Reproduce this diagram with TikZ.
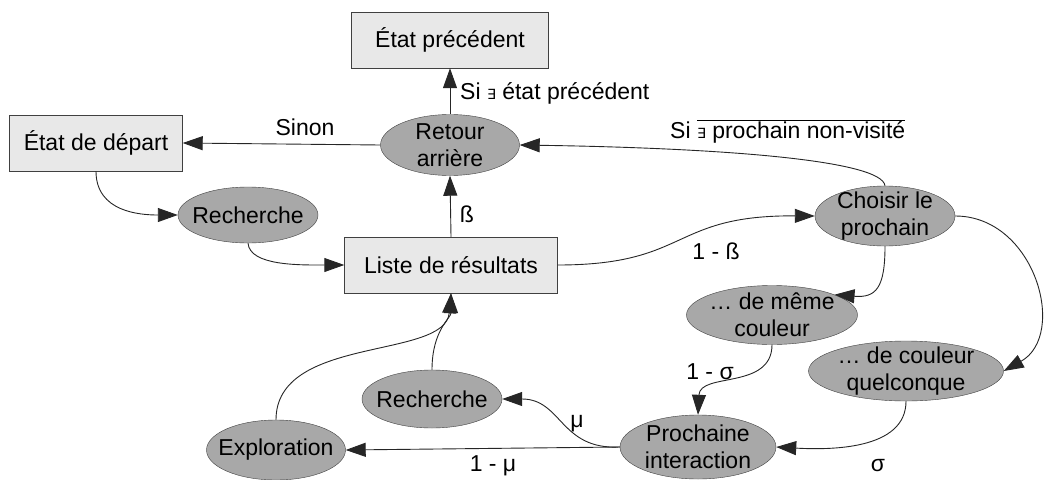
\documentclass[tikz,border=0pt]{standalone}
\usepackage{fontspec}
\setmainfont{Liberation Sans}
\newfontfamily\djv{DejaVu Sans}
\usetikzlibrary{shapes.geometric,arrows.meta}
\newcommand{\ex}{{\djv\fontsize{14}{15}\selectfont ∃}}
\begin{document}
\begin{tikzpicture}[x=1pt,y=-1pt,
  every node/.style={font=\fontsize{23}{27}\selectfont, text=black},
  box/.style={draw=black!75, fill=black!9, minimum width=#1, minimum height=56, inner sep=0pt},
  ell/.style={ellipse, draw=black!75, fill=black!34, minimum width=#1, minimum height=59, inner xsep=-10pt, inner ysep=-4pt, align=center},
  edge/.style={draw=black!85, line width=0.9pt, -{Triangle[length=20pt,width=14pt]}},
  lbl/.style={inner sep=0pt}
]
\useasboundingbox (0,0) rectangle (1051,479);

% nodes
\node[box=197] (prec) at (450,40) {État précédent};
\node[box=173] (dep) at (96,143) {État de départ};
\node[ell=139, minimum height=61] (ret) at (450,145) {Retour\\arrière};
\node[ell=140, minimum height=56] (rech1) at (248,215) {Recherche};
\node[box=213] (liste) at (451,265) {Liste de résultats};
\node[ell=140, minimum height=60] (choi) at (885,216) {Choisir le\\prochain};
\node[ell=171] (meme) at (772,315) {… de même\\couleur};
\node[ell=195, minimum height=60] (quel) at (906,371) {… de couleur\\quelconque};
\node[ell=156, minimum height=64] (proc) at (698,447) {Prochaine\\interaction};
\node[ell=140, minimum height=58] (rech2) at (432,399) {Recherche};
\node[ell=139, minimum height=60] (expl) at (276,450) {Exploration};

% edges
\draw[edge] (ret.north) -- (prec.south);
\draw[edge] (ret.west) -- (dep.east);
\draw[edge] (liste.north) -- (ret.south);
\draw[edge] (choi.north) .. controls (882,160) and (720,148) .. (ret.east);
\draw[edge] (dep.south) .. controls (96,212) and (140,215) .. (rech1.west);
\draw[edge] (rech1.south) .. controls (250,266) and (300,265) .. (liste.west);
\draw[edge] (liste.east) .. controls (690,265) and (670,215) .. (choi.west);
\draw[edge] (choi.south) .. controls (885,288) and (876,298) .. (meme.18);
\draw[edge] (choi.east) .. controls (1035,216) and (1068,335) .. (quel.east);
\draw[edge] (meme.south) .. controls (772,390) and (700,372) .. (proc.north);
\draw[edge] (quel.south) .. controls (906,450) and (830,450) .. (proc.east);
\draw[edge] (proc.west) .. controls (560,450) and (562,399) .. (rech2.east);
\draw[edge] (proc.west) -- (expl.east);
\draw[edge] (rech2.north) .. controls (432,330) and (451,318) .. (liste.south);
\draw[edge] (expl.north) .. controls (276,335) and (445,360) .. (liste.south);

% labels
\node[lbl, anchor=west] (l1) at (460,93) {Si \ex{} état précédent};
\node[lbl] (l2) at (305,127) {Sinon};
\node[lbl, anchor=west] (l3) at (670,131) {Si $\overline{\hbox{\ex{} prochain non-visité}}$};
\node[lbl] (l4) at (467,214) {ß};
\node[lbl] (l5) at (716,251) {1 - ß};
\node[lbl] (l6) at (710,372) {1 - σ};
\node[lbl] (l7) at (577,424) {μ};
\node[lbl] (l8) at (493,466) {1 - μ};
\node[lbl] (l9) at (878,466) {σ};
\end{tikzpicture}
\end{document}
